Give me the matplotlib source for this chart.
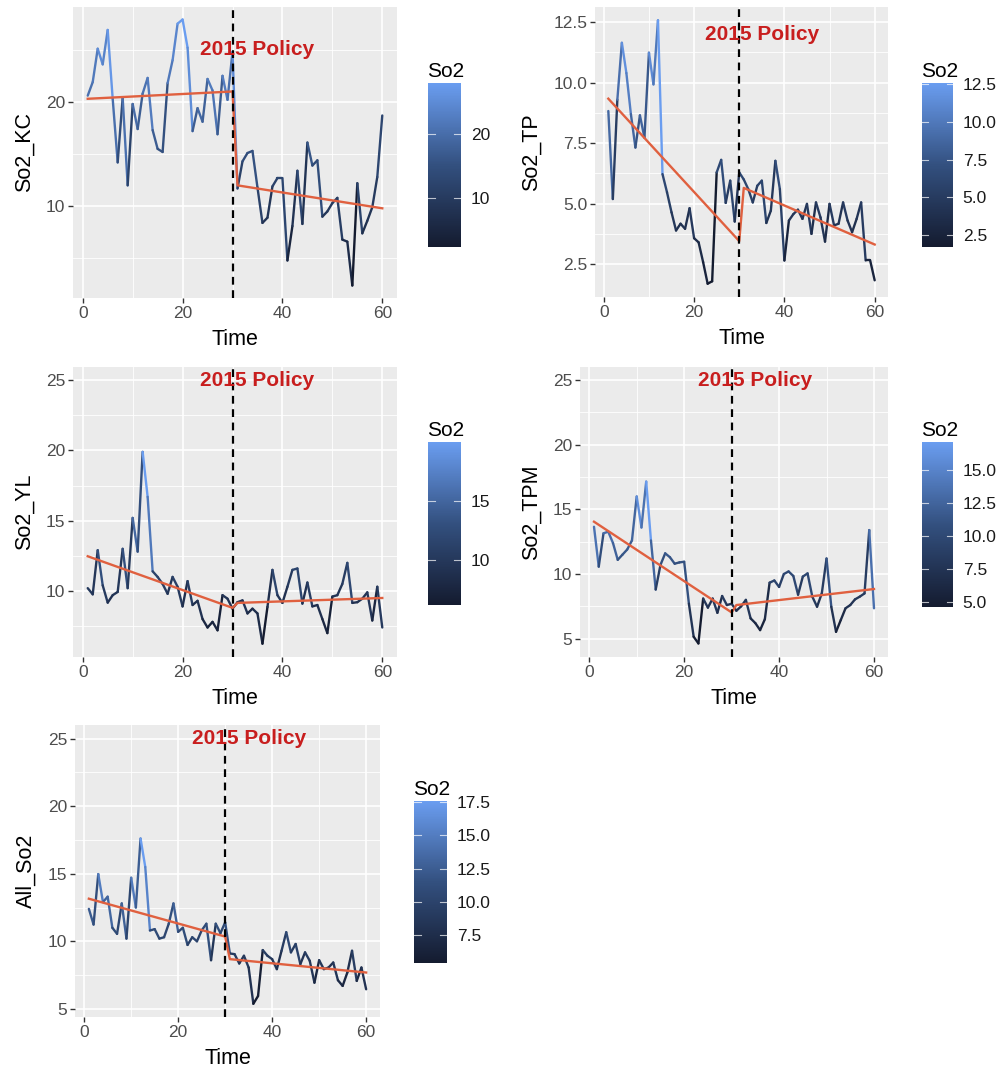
# SO2 interrupted time series, five sites, ggplot-like look
import matplotlib
matplotlib.use('Agg')
import matplotlib.pyplot as plt
from matplotlib.collections import LineCollection
from matplotlib.colors import LinearSegmentedColormap, Normalize
from matplotlib.cm import ScalarMappable
from matplotlib.ticker import FixedLocator, FormatStrFormatter
import numpy as np

plt.rcParams['font.family'] = ['Liberation Sans', 'DejaVu Sans']

time = list(range(1, 61))

so2_kc = [20.6, 21.9, 25.1, 23.6, 26.9, 20.3, 14.2, 20.4, 12.0, 19.8,
          17.4, 20.8, 22.3, 17.3, 15.5, 15.2, 21.8, 24.0, 27.5, 27.9,
          25.2, 17.2, 19.4, 18.1, 22.2, 21.1, 16.9, 22.5, 20.2, 24.8,
          11.7, 14.3, 15.1, 15.3, 11.8, 8.4, 8.9, 11.9, 12.7, 12.7,
          4.8, 8.1, 13.4, 8.3, 16.1, 13.9, 14.4, 9.0, 9.5, 10.3,
          10.8, 6.8, 6.6, 2.4, 12.2, 7.4, 8.6, 9.9, 12.8, 18.7]

so2_tp = [8.83, 5.19, 9.3, 11.65, 10.4, 8.7, 7.32, 8.65, 7.73, 11.24,
          9.93, 12.58, 6.22, 5.47, 4.64, 3.89, 4.17, 3.96, 4.81, 3.57,
          3.4, 2.58, 1.69, 1.79, 6.29, 6.81, 5.03, 5.95, 4.26, 6.29,
          6.0, 5.6, 5.05, 5.74, 5.95, 4.2, 4.71, 6.77, 5.6, 2.65,
          4.3, 4.57, 4.75, 4.37, 4.99, 3.75, 5.05, 4.43, 3.43, 4.99,
          4.1, 4.17, 5.05, 4.3, 3.82, 4.37, 5.05, 2.65, 2.65, 1.83]

so2_yl = [10.2, 9.76, 12.9, 10.4, 9.17, 9.7, 9.93, 13.0, 10.2, 15.2,
          12.8, 19.9, 16.7, 11.4, 11.0, 10.5, 9.8, 11.0, 10.3, 8.9,
          10.7, 9.0, 9.3, 8.0, 7.4, 7.8, 7.2, 9.7, 9.45, 8.74,
          9.2, 9.33, 8.4, 8.74, 8.4, 6.25, 8.86, 11.5, 9.7, 9.15,
          10.3, 11.5, 11.6, 9.1, 10.6, 8.9, 9.0, 8.0, 7.0, 9.6,
          9.7, 10.5, 12.0, 9.15, 9.2, 9.45, 9.9, 7.9, 10.3, 7.4]

so2_tpm = [13.66, 10.57, 13.15, 13.28, 12.4, 11.1, 11.5, 11.9, 12.6, 16.0,
           13.6, 17.15, 12.6, 8.8, 10.7, 11.6, 11.3, 10.8, 10.9, 10.95,
           7.7, 5.15, 4.63, 8.1, 7.4, 8.1, 7.0, 8.3, 7.6, 7.7,
           7.16, 7.5, 8.0, 6.57, 6.2, 5.66, 6.5, 9.33, 9.5, 9.0,
           10.0, 10.2, 9.85, 8.4, 9.8, 10.05, 8.25, 7.47, 8.5, 11.2,
           7.47, 5.53, 6.44, 7.35, 7.6, 8.04, 8.25, 8.5, 13.4, 7.35]

all_so2 = [12.4, 11.24, 14.97, 12.9, 13.3, 11.0, 10.55, 12.8, 10.2, 14.7,
           12.5, 17.6, 15.5, 10.8, 10.9, 10.2, 10.3, 11.3, 12.8, 10.7,
           11.0, 9.73, 10.3, 10.0, 10.8, 11.3, 8.6, 11.3, 10.6, 11.4,
           9.1, 9.05, 8.36, 8.93, 8.06, 5.38, 5.95, 9.35, 8.93, 8.68,
           7.94, 9.3, 10.67, 9.18, 9.8, 8.31, 9.18, 8.56, 6.94, 8.6,
           7.94, 8.06, 8.43, 7.12, 6.7, 7.69, 9.3, 7.07, 8.06, 6.45]

# fitted segmented-regression values at t = 1, 30, 31, 60
fit_t = [1, 30, 31, 60]
fit_kc = [20.3, 21.0, 12.0, 9.8]
fit_tp = [9.34, 3.45, 5.65, 3.31]
fit_yl = [12.47, 8.8, 9.15, 9.5]
fit_tpm = [14.05, 7.03, 7.6, 8.84]
fit_all = [13.15, 10.35, 8.68, 7.69]

W, H = 998, 1068
fig = plt.figure(figsize=(W / 100, H / 100), dpi=100)

cmap = LinearSegmentedColormap.from_list(
    'gg', ['#141B2F', '#33507F', '#6A9DF0'])


def px_axes(left, top, right, bottom):
    return fig.add_axes([left / W, 1 - bottom / H,
                         (right - left) / W, (bottom - top) / H])


def style_axes(ax):
    ax.set_facecolor('#EBEBEB')
    for s in ax.spines.values():
        s.set_visible(False)
    ax.grid(which='major', color='white', linewidth=1.2)
    ax.grid(which='minor', color='white', linewidth=0.6)
    ax.set_axisbelow(True)
    ax.tick_params(which='major', length=3.5, width=1, color='#333333',
                   labelsize=12.5, labelcolor='#4D4D4D', pad=2)
    ax.tick_params(which='minor', length=0)


def panel(box, cbox, values, fit, ylabel, ylim, yticks, yminor,
          cticks, cfmt, text_y):
    ax = px_axes(*box)
    style_axes(ax)
    v = np.array(values)
    t = np.array(time)
    norm = Normalize(vmin=v.min(), vmax=v.max())
    pts = np.column_stack([t, v])
    segs = np.stack([pts[:-1], pts[1:]], axis=1)
    lc = LineCollection(segs, colors=cmap(norm(v[:-1])), linewidth=1.7,
                        capstyle='round', joinstyle='round')
    ax.add_collection(lc)
    ax.plot(fit_t, fit, color='#E0603F', linewidth=1.7)
    ax.axvline(30, color='black', linestyle=(0, (3.5, 2.5)), linewidth=1.6)
    ax.text(35, text_y, '2015 Policy', color='#C81E1E', fontsize=15,
            fontweight='bold', ha='center', va='center')
    ax.set_xlim(-1.95, 62.95)
    ax.set_ylim(*ylim)
    ax.xaxis.set_major_locator(FixedLocator([0, 20, 40, 60]))
    ax.xaxis.set_minor_locator(FixedLocator([10, 30, 50]))
    ax.yaxis.set_major_locator(FixedLocator(yticks))
    ax.yaxis.set_minor_locator(FixedLocator(yminor))
    if any(y % 1 for y in yticks):
        ax.yaxis.set_major_formatter(FormatStrFormatter('%.1f'))
    ax.set_xlabel('Time', fontsize=15.5, labelpad=6)
    ax.set_ylabel(ylabel, fontsize=15.5, labelpad=8)

    # colour bar
    cax = px_axes(*cbox)
    cb = fig.colorbar(ScalarMappable(norm=norm, cmap=cmap), cax=cax)
    cb.outline.set_visible(False)
    cb.set_ticks(cticks)
    cb.ax.yaxis.set_major_formatter(FormatStrFormatter(cfmt))
    cax.tick_params(length=0, labelsize=12.5, labelcolor='#1A1A1A', pad=7)
    tr = cax.get_yaxis_transform()
    for c in cticks:
        cax.plot([0, 0.2], [c, c], color='white', linewidth=0.8,
                 transform=tr, alpha=0.7)
        cax.plot([0.8, 1], [c, c], color='white', linewidth=0.8,
                 transform=tr, alpha=0.7)
    cax.annotate('So2', xy=(0, 1), xycoords='axes fraction',
                 xytext=(-1, 1.5), textcoords='offset points', fontsize=15,
                 ha='left', va='bottom', color='black')
    return ax


panel((73, 7, 397, 298), (428, 83, 461, 247), so2_kc, fit_kc, 'So2_KC',
      (1.2, 29.1), [10, 20], [5, 15, 25], [10, 20], '%d', 25)
panel((595, 7, 888, 297), (922, 83, 953, 247), so2_tp, fit_tp, 'So2_TP',
      (1.14, 13.13), [2.5, 5, 7.5, 10, 12.5], [3.75, 6.25, 8.75, 11.25],
      [2.5, 5, 7.5, 10, 12.5], '%.1f', 12)
panel((73, 367, 397, 657), (428, 442, 461, 605), so2_yl, fit_yl, 'So2_YL',
      (5.3, 25.94), [10, 15, 20, 25], [7.5, 12.5, 17.5, 22.5],
      [10, 15], '%d', 25)
panel((580, 367, 888, 657), (922, 442, 953, 607), so2_tpm, fit_tpm,
      'So2_TPM', (3.58, 26.02), [5, 10, 15, 20, 25],
      [7.5, 12.5, 17.5, 22.5], [5, 7.5, 10, 12.5, 15], '%.1f', 25)
panel((75, 725, 380, 1017), (414, 801, 447, 963), all_so2, fit_all,
      'All_So2', (4.4, 26.0), [5, 10, 15, 20, 25],
      [7.5, 12.5, 17.5, 22.5], [7.5, 10, 12.5, 15, 17.5], '%.1f', 25)

fig.savefig('out.png', dpi=100, facecolor='white')
